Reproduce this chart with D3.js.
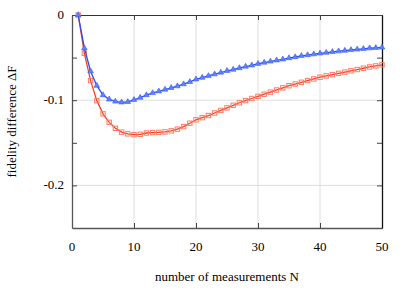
<!DOCTYPE html>
<html>
<head>
<meta charset="utf-8">
<script src="https://cdn.jsdelivr.net/npm/d3@7"></script>
<style>
  body { margin: 0; background: #fff; }
  text { font-family: "Liberation Serif", "DejaVu Serif", serif; }
</style>
</head>
<body>
<div class="container"></div>
<script>
const w = 415
const h = 292
const margin = {top: 15, right: 33, bottom: 64, left: 72}

const N = d3.range(1, 51)
const blueValues = [0, -0.039, -0.066, -0.083, -0.094, -0.099, -0.1015, -0.1025, -0.102, -0.0995,
  -0.097, -0.094, -0.0915, -0.0895, -0.0875, -0.0855, -0.0835, -0.0812, -0.0785, -0.0755,
  -0.0735, -0.0715, -0.0695, -0.0675, -0.0655, -0.064, -0.0622, -0.0605, -0.059, -0.0572,
  -0.0558, -0.0545, -0.0532, -0.052, -0.0505, -0.0493, -0.048, -0.047, -0.046, -0.045,
  -0.0442, -0.0433, -0.0425, -0.0418, -0.041, -0.0403, -0.0397, -0.039, -0.0385, -0.038]
const redValues = [0, -0.045, -0.077, -0.1005, -0.116, -0.126, -0.133, -0.1375, -0.1395, -0.1405,
  -0.140, -0.1385, -0.138, -0.1378, -0.1372, -0.136, -0.134, -0.131, -0.127, -0.123,
  -0.1205, -0.118, -0.115, -0.112, -0.109, -0.106, -0.103, -0.1005, -0.098, -0.0955,
  -0.093, -0.0905, -0.088, -0.0855, -0.083, -0.081, -0.079, -0.077, -0.075, -0.073,
  -0.0715, -0.070, -0.0685, -0.067, -0.0655, -0.064, -0.0625, -0.061, -0.0598, -0.0585]
const xTicks = [0, 10, 20, 30, 40, 50]
const yTicks = [0, -0.1, -0.2]
const yMinorTicks = [-0.05, -0.15]

const svg = d3.select(".container")
              .append("svg")
              .attr("width", w)
              .attr("height", h)

const xScale = d3.scaleLinear()
                 .domain([0, 50])
                 .range([margin.left, w - margin.right])

const yScale = d3.scaleLinear()
                 .domain([-0.25, 0])
                 .range([h - margin.bottom, margin.top])

// grid
svg.append("g")
    .selectAll("line")
    .data(xTicks.slice(1, -1))
    .enter()
    .append("line")
      .attr("x1", d => xScale(d)).attr("x2", d => xScale(d))
      .attr("y1", yScale(0)).attr("y2", yScale(-0.25))
      .attr("stroke", "#dedede")
svg.append("g")
    .selectAll("line")
    .data(yTicks.slice(1))
    .enter()
    .append("line")
      .attr("x1", xScale(0)).attr("x2", xScale(50))
      .attr("y1", d => yScale(d)).attr("y2", d => yScale(d))
      .attr("stroke", "#dedede")

// axes with inward ticks
const allY = yTicks.concat(yMinorTicks)
const tickLen = 5

svg.append("g")
    .attr("transform", `translate(0, ${h - margin.bottom})`)
    .call(d3.axisTop(xScale).tickValues(xTicks).tickSize(tickLen).tickSizeOuter(0).tickFormat(""))
    .call(g => g.select(".domain").attr("stroke", "#555").attr("stroke-width", 1.3))
    .call(g => g.selectAll(".tick line").attr("stroke", "#444"))

svg.append("g")
    .attr("transform", `translate(0, ${margin.top})`)
    .call(d3.axisBottom(xScale).tickValues(xTicks).tickSize(tickLen).tickSizeOuter(0).tickFormat(""))
    .call(g => g.select(".domain").attr("stroke", "#333"))
    .call(g => g.selectAll(".tick line").attr("stroke", "#444"))

svg.append("g")
    .attr("transform", `translate(${margin.left}, 0)`)
    .call(d3.axisRight(yScale).tickValues(allY).tickSize(tickLen).tickSizeOuter(0).tickFormat(""))
    .call(g => g.select(".domain").attr("stroke", "#555").attr("stroke-width", 1.3))
    .call(g => g.selectAll(".tick line").attr("stroke", "#444"))

svg.append("g")
    .attr("transform", `translate(${w - margin.right}, 0)`)
    .call(d3.axisLeft(yScale).tickValues(allY).tickSize(tickLen).tickSizeOuter(0).tickFormat(""))
    .call(g => g.select(".domain").attr("stroke", "#111").attr("stroke-width", 1.3))
    .call(g => g.selectAll(".tick line").attr("stroke", "#444"))

// tick labels
svg.append("g")
    .selectAll("text")
    .data(xTicks)
    .enter()
    .append("text")
      .attr("x", d => xScale(d))
      .attr("y", h - margin.bottom + 23)
      .attr("text-anchor", "middle")
      .attr("font-size", 13)
      .text(d => d)

svg.append("g")
    .selectAll("text")
    .data(yTicks)
    .enter()
    .append("text")
      .attr("x", margin.left - 8)
      .attr("y", d => yScale(d) + 4)
      .attr("text-anchor", "end")
      .attr("font-size", 13)
      .text(d => d3.format("")(d).replace("−", "-"))

// titles
svg.append("text")
    .attr("x", (margin.left + w - margin.right) / 2)
    .attr("y", h - 11)
    .attr("text-anchor", "middle")
    .attr("font-size", 13)
    .text("number of measurements N")

svg.append("text")
    .attr("transform", `translate(16, ${(margin.top + h - margin.bottom) / 2}) rotate(-90)`)
    .attr("text-anchor", "middle")
    .attr("font-size", 13)
    .text("fidelity difference ΔF")

// series
const line = d3.line()
               .x((d, i) => xScale(N[i]))
               .y(d => yScale(d))

svg.append("path")
    .datum(redValues)
    .attr("d", line)
    .attr("fill", "none")
    .attr("stroke", "#f2401f")
    .attr("stroke-width", 1.3)

svg.append("g")
    .selectAll("rect")
    .data(redValues)
    .enter()
    .append("rect")
      .attr("x", (d, i) => xScale(N[i]) - 2.2)
      .attr("y", d => yScale(d) - 2.2)
      .attr("width", 4.4)
      .attr("height", 4.4)
      .attr("fill", "none")
      .attr("stroke", "#ff7a62")
      .attr("stroke-width", 1)

svg.append("path")
    .datum(blueValues)
    .attr("d", line)
    .attr("fill", "none")
    .attr("stroke", "#2a4df2")
    .attr("stroke-width", 1.3)

const tri = d3.symbol().type(d3.symbolTriangle).size(14)
svg.append("g")
    .selectAll("path")
    .data(blueValues)
    .enter()
    .append("path")
      .attr("d", tri)
      .attr("transform", (d, i) => `translate(${xScale(N[i])}, ${yScale(d)})`)
      .attr("fill", "#5f80ff")
      .attr("stroke", "#3a5cf5")
      .attr("stroke-width", 0.6)
</script>
</body>
</html>
